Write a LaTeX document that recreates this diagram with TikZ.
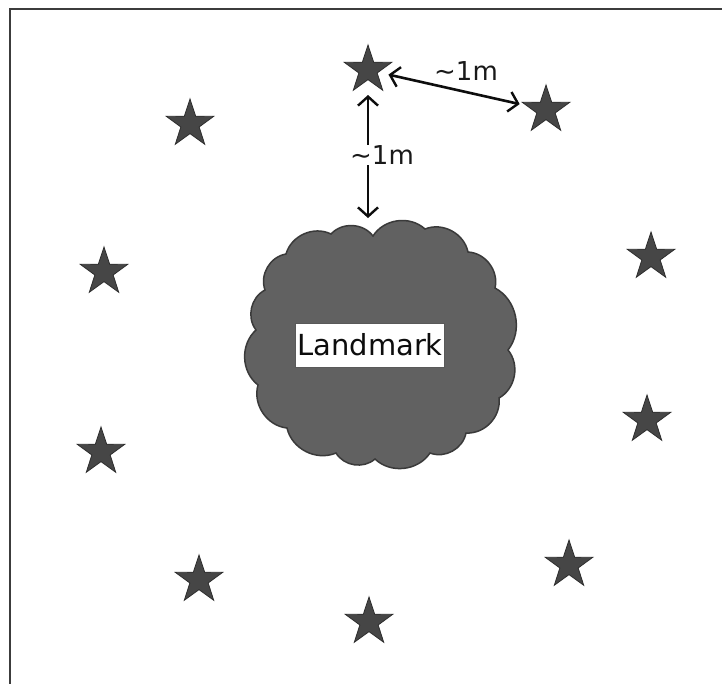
\documentclass[tikz,border=0pt]{standalone}
\usepackage{fontspec}
\setmainfont{DejaVu Sans}
\usetikzlibrary{shapes.geometric,arrows.meta}
\definecolor{starfill}{HTML}{464646}
\definecolor{stardraw}{HTML}{2E2E2E}
\definecolor{cloudfill}{HTML}{616161}
\definecolor{clouddraw}{HTML}{3A3A3A}
\definecolor{framecol}{HTML}{3C3C3C}
\tikzset{
  starnode/.style={shape=star, star points=5, star point ratio=2.6, minimum size=50pt, inner sep=0pt, fill=starfill, draw=stardraw, line width=0.8pt},
  dimtip/.style={},
  dim/.style={line width=2.6pt, draw=black!95, {Straight Barb[length=9pt,width=20pt,line width=2.4pt]}-{Straight Barb[length=9pt,width=20pt,line width=2.4pt]}},
  dimlabel/.style={font=\fontsize{26}{30}\selectfont, inner sep=1pt, text=black!90},
  cloudshape/.style={fill=cloudfill, draw=clouddraw, line width=1.5pt},
  landlabel/.style={font=\fontsize{29}{32}\selectfont, fill=white, draw=black!65, line width=0.8pt, inner xsep=2pt, inner ysep=0pt, minimum height=44pt, text=black!95},
  framestyle/.style={draw=framecol, line width=2pt}
}
\begin{document}
\begin{tikzpicture}[x=1pt,y=-1pt]
\clip (0,0) rectangle (722,683);
\useasboundingbox (0,0) rectangle (722,683);
\fill[white] (0,0) rectangle (722,683);
% frame (right and bottom edges outside the picture)
\draw[framestyle] (10,700) -- (10,9) -- (740,9);
% cloud
\path[cloudshape] (373,236) to[bend left=50] (425,229) to[bend left=50] (468,252)
  to[bend left=50] (495,288) to[bend left=50] (508,350) to[bend left=50] (499,398)
  to[bend left=50] (466,433) to[bend left=50] (430,453) to[bend left=50] (375,459)
  to[bend left=50] (336,453) to[bend left=50] (287,428) to[bend left=50] (258,385)
  to[bend left=50] (256,330) to[bend left=50] (265,290) to[bend left=50] (286,254)
  to[bend left=50] (331,234) to[bend left=50] (373,236) -- cycle;
\coordinate (cloudtop) at (368,218);
\node[landlabel] (land) at (370,345) {Landmark};
% stars
\node[starnode] (s1) at (368,70) {};
\node[starnode] (s2) at (546,110) {};
\node[starnode] (s3) at (190,124) {};
\node[starnode] (s4) at (104,272) {};
\node[starnode] (s5) at (651,257) {};
\node[starnode] (s6) at (101,452) {};
\node[starnode] (s7) at (647,420) {};
\node[starnode] (s8) at (199,580) {};
\node[starnode] (s9) at (569,565) {};
\node[starnode] (s10) at (369,622) {};
% dimension arrows
\draw[dim, shorten <=21pt, shorten >=27pt] (s1.center) -- (s2.center);
\node[dimlabel] (d1) at (466,71) {\char`~1m};
\draw[dim, shorten <=25pt] (s1.center) -- (cloudtop);
\node[dimlabel, fill=white] (d2) at (382,155) {\char`~1m};
\end{tikzpicture}
\end{document}
